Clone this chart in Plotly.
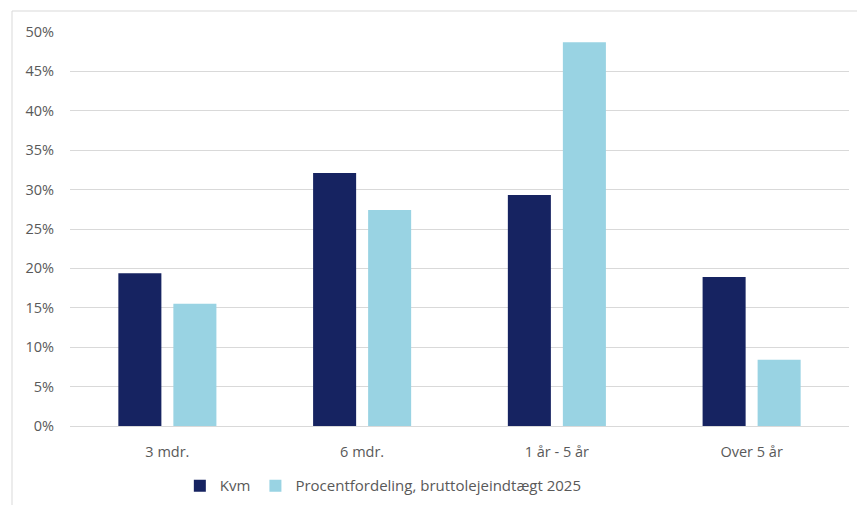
import plotly.graph_objects as go

categories = ["3 mdr.", "6 mdr.", "1 år - 5 år", "Over 5 år"]
kvm = [19.4, 32.1, 29.3, 18.9]
procent = [15.5, 27.4, 48.7, 8.4]
tick_vals = [0, 5, 10, 15, 20, 25, 30, 35, 40, 45, 50]
tick_text = [f"{v}%" for v in tick_vals]

NAVY = "#162361"
LIGHT = "#99D3E3"
TEXT = "#595959"
GRID = "#D9D9D9"
FONT = "Open Sans"

fig = go.Figure()
fig.add_trace(go.Bar(name="Kvm", x=categories, y=kvm, marker_color=NAVY,
                     marker_line_width=0))
fig.add_trace(go.Bar(name="Procentfordeling, bruttolejeindtægt 2025", x=categories,
                     y=procent, marker_color=LIGHT, marker_line_width=0))

fig.update_layout(
    width=857, height=505,
    margin=dict(l=70, r=8, t=32, b=79, autoexpand=False),
    paper_bgcolor="white", plot_bgcolor="white",
    barmode="group", bargap=0.435, bargroupgap=0.218,
    font=dict(family=FONT, size=13, color=TEXT),
    showlegend=True,
    legend=dict(orientation="h", x=0.141, xanchor="left", y=-0.152, yanchor="middle",
                font=dict(family=FONT, size=15, color=TEXT),
                tracegroupgap=0, traceorder="normal"),
    xaxis=dict(showgrid=False, showline=True, linecolor=GRID, linewidth=1,
               ticks="", ticklabelstandoff=13,
               tickfont=dict(family=FONT, size=14.5, color=TEXT)),
    yaxis=dict(range=[0, 50], tickvals=tick_vals, ticktext=tick_text,
               showgrid=True, gridcolor=GRID, gridwidth=1, zeroline=False,
               showline=False, ticks="", ticklabelstandoff=15,
               tickfont=dict(family=FONT, size=14.5, color=TEXT)),
    shapes=[dict(type="rect", xref="paper", yref="paper",
                 x0=(12 - 70) / 779, x1=2.0, y0=-1.0, y1=1 + 21 / 394,
                 line=dict(color=GRID, width=1), fillcolor="rgba(0,0,0,0)",
                 layer="below")],
)

fig.write_html("out.html")
